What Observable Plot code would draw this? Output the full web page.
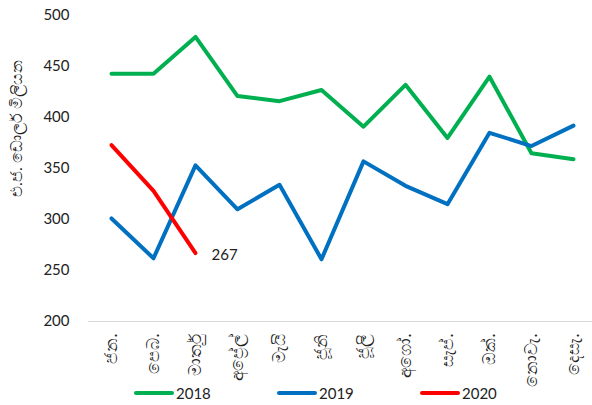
<!DOCTYPE html>
<html><head><meta charset="utf-8">
<script src="https://cdn.jsdelivr.net/npm/d3@7"></script>
<script src="https://cdn.jsdelivr.net/npm/@observablehq/plot@0.6"></script>
<style>
body{margin:0;background:#fff;font-family:Lato,"Noto Sans",sans-serif;}
#chart svg{overflow:visible}
#legend{height:21px;font-size:15px;color:#222;position:relative;}
.item{position:absolute;display:flex;align-items:center;top:0px}
.sw{width:40px;height:4px;border-radius:2px;margin-right:2px}
</style></head>
<body><div id="chart"></div><div id="legend"></div>
<script>
const months = ["ජන.","පෙබ.","මාර්තු","අප්‍රේල්","මැයි","ජූනි","ජූලි","අගෝ.","සැප්.","ඔක්.","නොවැ.","දෙසැ."];
const years = ["2018","2019","2020"];
const colors = ["#00B050","#0070C0","#FF0000"];
const v2018 = [443,443,479,421,416,427,391,432,380,440,365,359];
const v2019 = [301,262,353,310,334,261,357,333,315,385,372,392];
const v2020 = [373,328,267];
const yTicks = [200,250,300,350,400,450,500];
const yLabel = "එ.ජ. ඩොලර් මිලියන";

const rows = [];
[v2018,v2019,v2020].forEach((arr,i)=>arr.forEach((v,j)=>rows.push({year:years[i],month:months[j],value:v})));
const last2020 = rows.filter(d=>d.year==="2020").slice(-1);

const W=592,H=384;
const chart = Plot.plot({
  width:W,height:H,
  marginLeft:88,marginRight:0,marginTop:15,marginBottom:H-321,
  style:{fontFamily:"Lato, 'Noto Sans', sans-serif",fontSize:"15px",color:"#222",background:"#fff",overflow:"visible"},
  x:{type:"point",domain:months,range:[108.5,575],padding:0},
  y:{domain:[200,500],ticks:yTicks},
  color:{domain:years,range:colors},
  marks:[
    Plot.ruleY([200],{stroke:"#d9d9d9",strokeWidth:1}),
    Plot.axisY({ticks:yTicks,tickSize:0,tickPadding:19,label:null,fontSize:15}),
    Plot.axisX({tickSize:0,tickPadding:12,tickRotate:-90,label:null,fontSize:17}),
    Plot.text([yLabel],{frameAnchor:"left",textAnchor:"middle",dx:-72,dy:-40,rotate:-90,fontSize:16,fill:"#222"}),
    Plot.line(rows,{x:"month",y:"value",stroke:"year",z:"year",strokeWidth:4,strokeLinecap:"round",strokeLinejoin:"round"}),
    Plot.text(last2020,{x:"month",y:"value",text:d=>String(d.value),dx:16,dy:2,textAnchor:"start",fontSize:15,fill:"#222"})
  ]
});
document.getElementById("chart").appendChild(chart);
const lg=document.getElementById("legend");
const lefts=[134,277,420];
years.forEach((y,i)=>{
  const it=document.createElement("div");it.className="item";it.style.left=lefts[i]+"px";
  it.innerHTML=`<div class="sw" style="background:${colors[i]}"></div><span>${y}</span>`;
  lg.appendChild(it);
});
</script></body></html>
